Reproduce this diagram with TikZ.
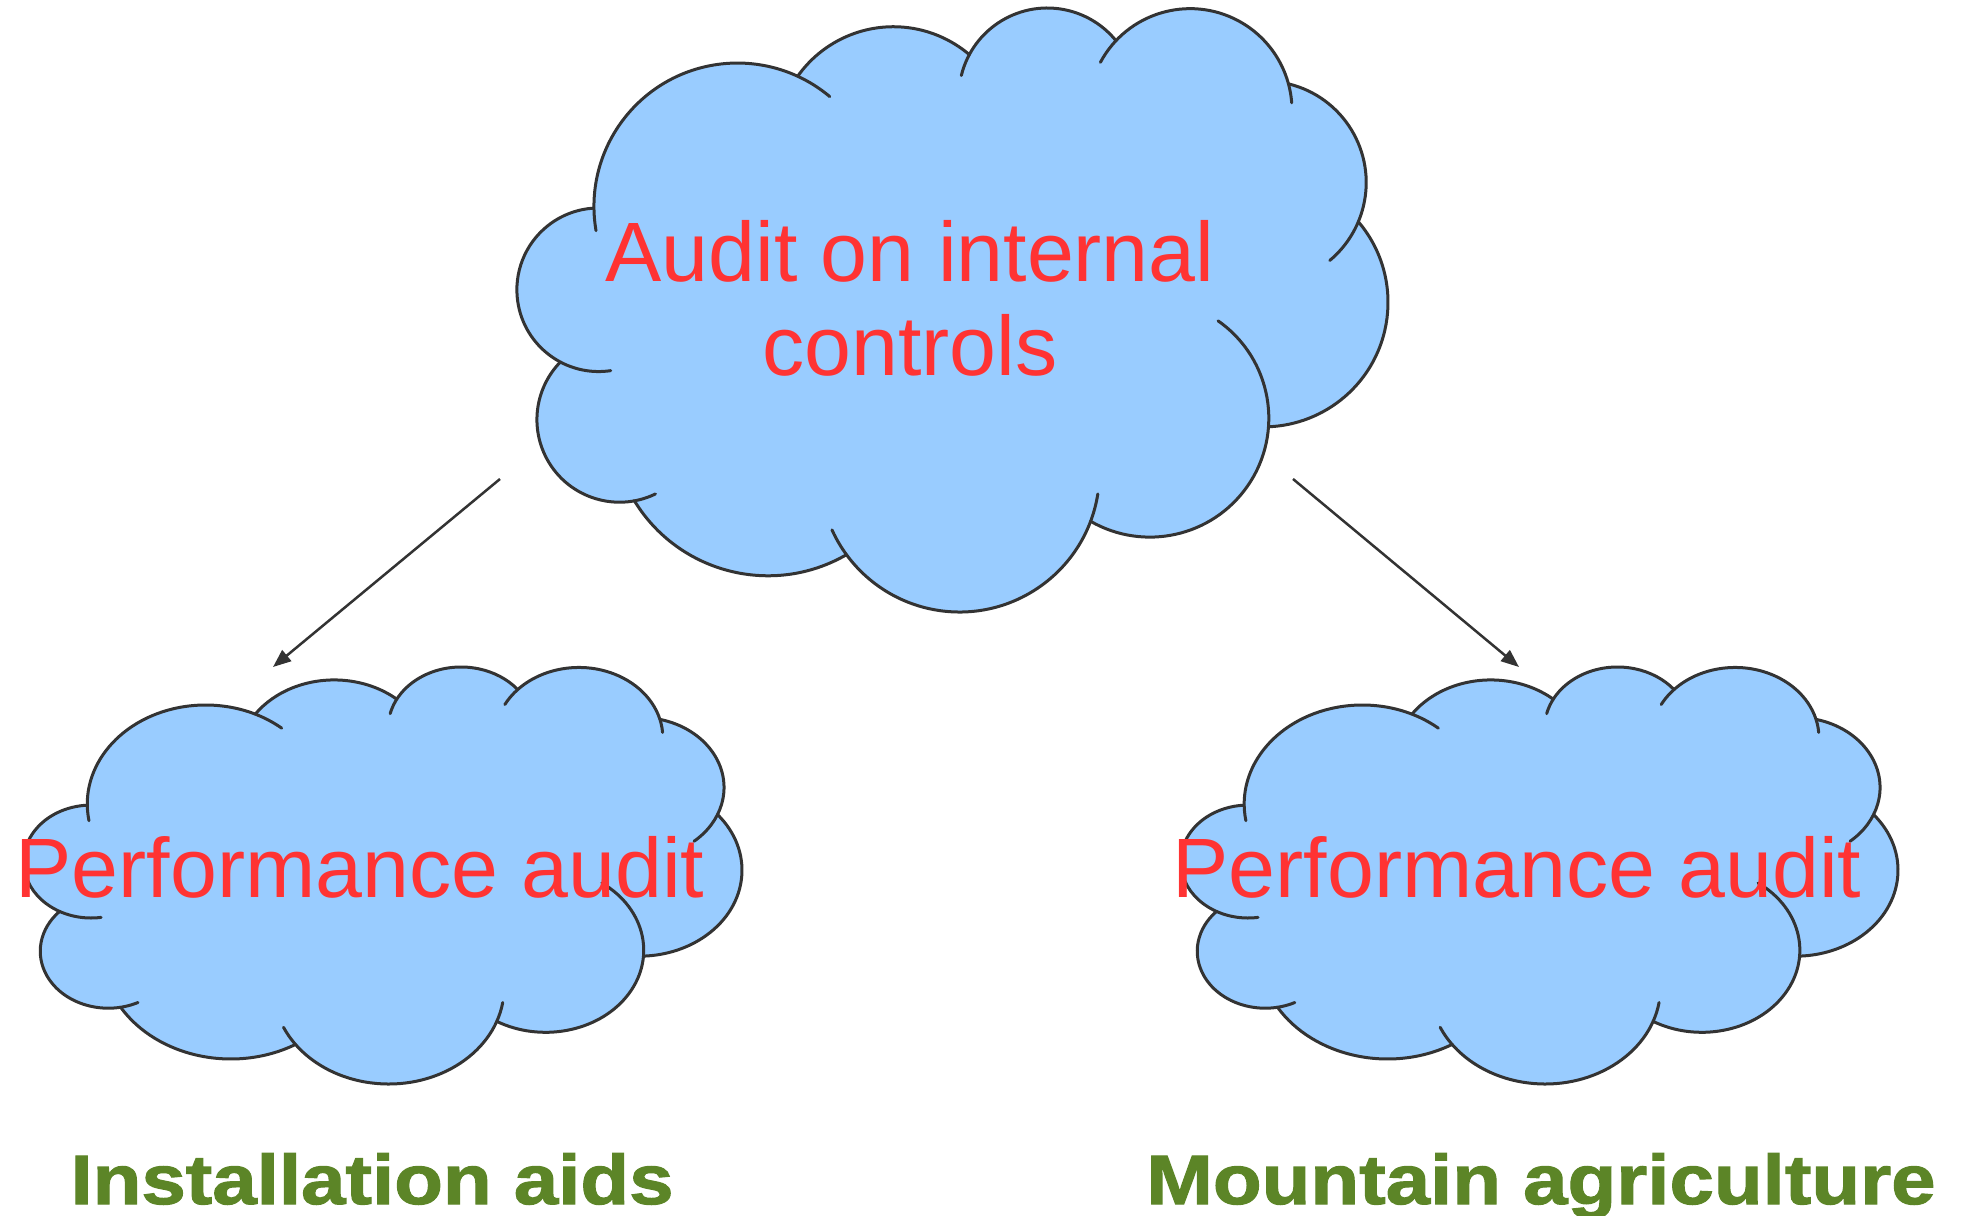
\documentclass[tikz,border=0pt]{standalone}
\usepackage{fontspec}
\setmainfont{Liberation Sans}
\newfontfamily\labelfont{Liberation Sans Bold}[FakeStretch=1.14,FakeBold=1.6]
\usetikzlibrary{arrows.meta}

\definecolor{cloudblue}{HTML}{99CCFF}
\definecolor{cloudedge}{HTML}{333333}
\definecolor{auditred}{HTML}{FF3333}
\definecolor{labelgreen}{HTML}{5C8527}

% lobes of the cloud in a 100x100 box: centre / radii / first and last angle
\newcommand{\cloudlobes}{25.4/32.86/16.46/23.75/170.3/310,
  43.28/22.51/13.45/19.41/-144.7/-49.6,
  60.93/14.65/10.15/14.65/-166.3/-39.2,
  77.31/16.96/11.68/16.85/-151.8/-4.3,
  85.85/28.90/11.65/16.81/-76.3/50.1,
  85.72/48.74/14.28/20.61/-40.4/87.7,
  72.69/67.92/13.64/19.68/-55/119.9,
  50.86/76.83/16.06/23.17/9.0/155.6,
  28.9/68.10/17.95/25.90/59.9/148.7,
  11.87/68.15/9.47/13.67/64.2/224.4,
  9.48/46.65/9.38/13.54/81.5/266.5}

% #1,#2 top left corner, #3,#4 scale
\newcommand{\drawcloud}[4]{%
  \begin{scope}[shift={(#1,#2)},xscale=#3,yscale=#4]
  \foreach \cx/\cy/\rx/\ry/\a/\b in \cloudlobes
    \fill[cloudfill] (\cx,\cy) ellipse[x radius=\rx,y radius=\ry];
  \fill[cloudfill] (32.3,11.3) -- (52.0,7.7) -- (68.8,5.4) -- (88.6,12.6) -- (96.6,35.4) -- (86.3,69.3)
    -- (65.9,85.0) -- (37.9,90.5) -- (13.5,81.6) -- (5.1,58.6) -- (8.9,33.1) -- cycle;
  \foreach \cx/\cy/\rx/\ry/\a/\b in \cloudlobes
    \draw[cloudline] (\cx,\cy) ++(\a:{\rx} and {\ry}) arc[start angle=\a,end angle=\b,x radius=\rx,y radius=\ry];
  \end{scope}}

\begin{document}
\begin{tikzpicture}[x=0.5pt,y=-0.5pt,
  cloudfill/.style={fill=cloudblue},
  cloudline/.style={draw=cloudedge,line width=1.5pt,line cap=round},
  redtext/.style={text=auditred,font=\fontsize{42.15pt}{47pt}\selectfont,inner sep=0pt},
  greentext/.style={text=labelgreen,font=\labelfont\fontsize{35pt}{40pt}\selectfont,inner sep=0pt},
  link/.style={draw=cloudedge,line width=1.25pt,-{Triangle[length=9pt,width=7pt]}}]
  \useasboundingbox (0,0) rectangle (1961,1216);

  % clouds
  \drawcloud{516}{8}{8.72}{6.04}
  \drawcloud{23}{667}{7.19}{4.17}
  \drawcloud{1180}{667}{7.18}{4.17}

  % texts
  \node[redtext,align=center,anchor=base] (audit) at (910,375) {Audit on internal\\controls};
  \node[redtext,anchor=base] (perfL) at (360,897) {Performance audit};
  \node[redtext,anchor=base] (perfR) at (1517,897) {Performance audit};
  \node[greentext,anchor=base] (aids) at (372,1204) {Installation aids};
  \node[greentext,anchor=base] (mountain) at (1541,1204) {Mountain agriculture};

  % arrows
  \coordinate (auditL) at (500,479);
  \coordinate (auditR) at (1293,479);
  \coordinate (perfLtop) at (273,667);
  \coordinate (perfRtop) at (1519,667);
  \draw[link] (auditL) -- (perfLtop);
  \draw[link] (auditR) -- (perfRtop);
\end{tikzpicture}
\end{document}
